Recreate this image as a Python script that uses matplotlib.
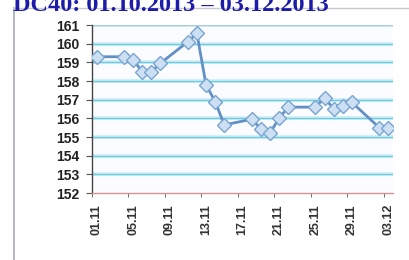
import matplotlib
matplotlib.use("Agg")
import matplotlib.pyplot as plt
from matplotlib.lines import Line2D
import numpy as np

title = "DC40: 01.10.2013 – 03.12.2013"
# day offset from 01.11 for each trading day
days = [0, 3, 4, 5, 6, 7, 10, 11, 12, 13, 14, 17, 18, 19, 20, 21, 24, 25, 26, 27, 28, 31, 32]
values = [159.3, 159.3, 159.15, 158.5, 158.5, 158.95, 160.1, 160.55, 157.8, 156.9, 155.65,
          155.95, 155.45, 155.2, 156.0, 156.6, 156.6, 157.1, 156.5, 156.65, 156.85, 155.5, 155.5]
tick_days = [0, 4, 8, 12, 16, 20, 24, 28, 32]
tick_labels = ["01.11", "05.11", "09.11", "13.11", "17.11", "21.11", "25.11", "29.11", "03.12"]
y_ticks = [152, 153, 154, 155, 156, 157, 158, 159, 160, 161]

plt.rcParams['font.family'] = ['Liberation Sans', 'DejaVu Sans']
fig = plt.figure(figsize=(4.1, 2.6), dpi=100)
fig.patch.set_facecolor('white')

# outer frame lines
fig.add_artist(Line2D([14/410, 14/410], [0, 1-8/260], color='#a8aabb', lw=1.2))
fig.add_artist(Line2D([14/410, 1], [1-8/260, 1-8/260], color='#c8c8d0', lw=1.0))

fig.text(13/410, 1-11/260, title, fontsize=17.5, fontweight='bold', family='Liberation Serif',
         color='#1c1ca8', va='baseline', ha='left')

ax = fig.add_axes([92/410, 1-193/260, (393-92)/410, (193-25)/260])
ax.set_facecolor('#fbfcff')
ax.set_xlim(-0.5, 32.5)
ax.set_ylim(152, 161)

for v in y_ticks[1:]:
    col = '#6ccbdc' if v != 161 else '#a9cbd8'
    ax.axhline(v, color='#d6f0f8', lw=3.0, zorder=1)
    ax.axhline(v, color=col, lw=1.0, zorder=1)

ax.plot(days, values, color='#6390c4', lw=2.0, zorder=3,
        marker='D', markersize=7, markerfacecolor='#cde0f3', markeredgecolor='#7aa4d0',
        markeredgewidth=1.0)

ax.set_yticks(y_ticks)
ax.set_yticklabels([str(v) for v in y_ticks], fontsize=10, fontweight='bold', color='#222222')
ax.set_xticks(tick_days)
ax.set_xticklabels(tick_labels, rotation=90, fontsize=9, fontweight='bold', color='#333333')
ax.set_xticks(np.arange(-0.5, 33, 4), minor=True)
ax.tick_params(axis='x', which='major', length=0, pad=8)
ax.tick_params(axis='x', which='minor', length=3, color='#555555', direction='out')
ax.tick_params(axis='y', length=4, color='#555555', direction='out', pad=5)

for s in ['top', 'right']:
    ax.spines[s].set_visible(False)
ax.spines['left'].set_color('#444444')
ax.spines['left'].set_linewidth(1.0)
ax.spines['bottom'].set_color('#d89090')
ax.spines['bottom'].set_linewidth(1.0)

fig.savefig('out.png', dpi=100)
